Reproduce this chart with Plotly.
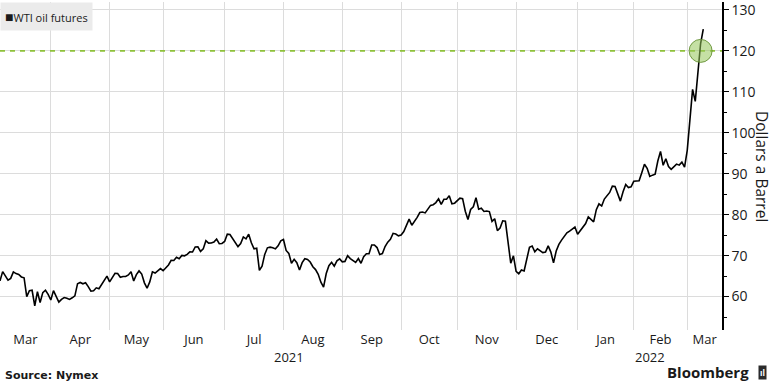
import numpy as np
import pandas as pd
import plotly.graph_objects as go

# ---------------- data ----------------
start_date = "2021-03-04"
end_date = "2022-03-08"
axis_end = "2022-03-17"
holidays = ["2021-04-02", "2021-05-31", "2021-07-05", "2021-09-06",
            "2021-11-25", "2021-12-24", "2022-01-17", "2022-02-21"]

mar21 = [63.83, 66.09, 65.05, 64.01, 64.44, 66.02, 65.61, 65.39, 64.80, 64.60,
         60.00, 61.42, 61.55, 57.76, 61.18, 58.56, 60.97, 61.56, 60.55, 59.16]
apr21 = [61.45, 58.65, 59.33, 59.77, 59.60, 59.32, 59.70, 60.18, 63.15, 63.46,
         63.13, 63.38, 62.44, 61.35, 61.43, 62.14, 61.91, 62.94, 63.86, 65.01, 63.58]
may21 = [64.49, 65.69, 65.63, 64.71, 64.90, 64.92, 65.28, 66.08, 63.82, 65.37,
         66.27, 65.49, 63.36, 62.05, 63.58, 66.05, 65.76, 66.21, 66.85, 66.32]
jun21 = [67.72, 68.83, 68.81, 69.62, 69.23, 70.05, 69.96, 70.29, 70.91, 70.88,
         72.12, 72.15, 71.04, 71.64, 73.66, 73.06, 73.08, 73.30, 74.05, 72.91, 72.98, 73.47]
jul21 = [75.23, 75.16, 73.37, 72.20, 72.94, 74.56, 74.10, 75.25, 73.13, 71.65,
         71.81, 66.42, 67.42, 70.30, 71.91, 72.07, 71.91, 71.65, 72.39, 73.62, 73.95]
aug21 = [71.26, 70.56, 68.15, 69.09, 68.28, 66.48, 68.29, 69.25, 69.09, 68.44,
         67.29, 66.59, 65.46, 63.50, 62.32, 65.64, 67.54, 68.36, 67.42, 68.74, 69.21, 68.50]
sep21 = [68.59, 69.99, 69.29, 68.35, 69.30, 68.14, 69.72, 70.45, 70.46, 72.61,
         72.61, 71.97, 70.29, 70.49, 72.23, 73.30, 73.98, 75.45, 75.29, 74.83, 75.03]
oct21 = [75.88, 77.62, 78.93, 77.43, 78.30, 79.35, 80.52, 80.64, 80.44, 81.31,
         82.28, 82.44, 82.96, 83.87, 82.50, 83.76, 83.76, 84.65, 82.66, 82.81, 83.57]
nov21 = [84.05, 83.91, 80.86, 78.81, 81.27, 81.93, 84.15, 81.34, 81.59, 80.79,
         80.88, 80.76, 78.36, 79.01, 76.10, 76.75, 78.50, 78.39, 68.15, 69.95, 66.18]
dec21 = [65.57, 66.50, 66.26, 69.49, 72.05, 72.36, 70.94, 71.67, 71.29, 70.73,
         70.87, 72.38, 70.86, 68.23, 71.12, 72.76, 73.79, 75.57, 75.98, 76.56, 76.99, 75.21]
jan22 = [76.08, 76.99, 77.85, 79.46, 78.90, 78.23, 81.22, 82.64, 82.12, 83.82,
         85.43, 86.96, 86.90, 85.14, 83.31, 85.60, 87.35, 86.61, 86.82, 88.15]
feb22 = [88.20, 88.26, 90.27, 92.31, 91.32, 89.36, 89.66, 89.88, 93.10, 95.46,
         92.07, 93.66, 91.76, 91.07, 92.35, 92.10, 92.81, 91.59, 95.72]
mar22 = [103.41, 110.60, 107.67, 115.68, 121.80, 125.30]

threshold = 120
highlight_date = "2022-03-07"

y_ticks = [60, 70, 80, 90, 100, 110, 120, 130]
y_range = [51.84, 131.94]

# ---------------- build ----------------
values = (mar21 + apr21 + may21 + jun21 + jul21 + aug21 + sep21 + oct21 +
          nov21 + dec21 + jan22 + feb22 + mar22)
dates = pd.bdate_range(start_date, end_date)
dates = dates[~dates.isin(pd.to_datetime(holidays))]
assert len(dates) == len(values), (len(dates), len(values))

s = pd.Series(dates)
per = s.dt.to_period("M")
month_last = s.groupby(per).max()
periods = list(month_last.index)
gridlines = list(month_last.values[:-1])  # last trading day of each month

origin = np.datetime64(dates[0].date())


def bpos(d):
    d = pd.Timestamp(d)
    return np.busday_count(origin, np.datetime64(d.date())) + (d - d.normalize()) / pd.Timedelta(days=1)


def bdate(p):
    base = int(np.floor(p))
    frac = p - base
    d = pd.Timestamp(np.busday_offset(origin, base, roll="forward"))
    return d + pd.Timedelta(days=frac)


x_start = pd.Timestamp(dates[0])
x_end = pd.Timestamp(axis_end)
bounds = [x_start] + [pd.Timestamp(g) for g in gridlines] + [x_end]

label_vals, label_text = [], []
for i, p in enumerate(periods):
    mid = (bpos(bounds[i]) + bpos(bounds[i + 1])) / 2
    label_vals.append(bdate(mid).strftime("%Y-%m-%d %H:%M"))
    label_text.append(p.strftime("%b"))

year_annots = []
years = sorted(set(p.year for p in periods))
for yr in years:
    idx = [i for i, p in enumerate(periods) if p.year == yr]
    a, b = bounds[idx[0]], bounds[idx[-1] + 1]
    mid = (bpos(a) + bpos(b)) / 2
    year_annots.append((bdate(mid).strftime("%Y-%m-%d %H:%M"), str(yr)))

FONT = "Open Sans"
TXT = "#1a1a1a"
GRID = "#dcdcdc"

fig = go.Figure()
# dashed threshold line as a trace spanning the axis range
fig.add_trace(go.Scatter(
    x=[x_start, x_end], y=[threshold, threshold], mode="lines",
    line=dict(color="#8fc13a", width=1.6, dash="5px,5px"),
    showlegend=False, hoverinfo="skip"))
fig.add_trace(go.Scatter(
    x=dates, y=values, mode="lines",
    line=dict(color="black", width=1.6),
    name="WTI oil futures", showlegend=False, hoverinfo="x+y"))
fig.add_trace(go.Scatter(
    x=[highlight_date], y=[threshold], mode="markers",
    marker=dict(size=23, color="rgba(150,198,90,0.55)",
                line=dict(color="rgba(95,140,45,0.85)", width=1)),
    showlegend=False, hoverinfo="skip"))

fig.update_layout(
    width=774, height=383,
    margin=dict(l=0, r=52, t=0, b=53),
    paper_bgcolor="white", plot_bgcolor="white",
    font=dict(family=FONT, color=TXT, size=13),
    showlegend=False,
    xaxis=dict(
        type="date",
        range=[x_start, x_end],
        rangebreaks=[dict(bounds=["sat", "mon"])],
        tickmode="array", tickvals=label_vals, ticktext=label_text,
        ticks="", showgrid=False, showline=False, zeroline=False,
        ticklabeloverflow="allow",
        tickfont=dict(size=13, color=TXT, family=FONT),
        minor=dict(tickmode="array", tickvals=gridlines, showgrid=True,
                   gridcolor=GRID, gridwidth=1, ticks=""),
    ),
    yaxis=dict(
        side="right", range=y_range,
        tickmode="array", tickvals=y_ticks,
        ticks="outside", ticklen=5, tickcolor="black", tickwidth=1,
        showline=True, linecolor="black", linewidth=1.5,
        showgrid=True, gridcolor=GRID, gridwidth=1, zeroline=False,
        ticklabeloverflow="allow",
        tickfont=dict(size=14, color=TXT, family=FONT),
        minor=dict(dtick=5, ticks="outside", ticklen=3, tickcolor="black", showgrid=False),
    ),
)

annots = []
annots.append(dict(xref="paper", yref="paper", x=0, y=1, xanchor="left", yanchor="top",
                   text="<span style='font-size:14px'>■</span>WTI oil futures",
                   showarrow=False, bgcolor="#ebebeb", borderpad=4,
                   font=dict(size=11, color=TXT, family=FONT)))
for xv, txt in year_annots:
    annots.append(dict(xref="x", yref="paper", x=xv, y=0, yanchor="middle", xanchor="center",
                       yshift=-27, text=txt, showarrow=False,
                       font=dict(size=13, color=TXT, family=FONT)))
annots.append(dict(xref="paper", yref="paper", x=1, y=0.5, xshift=40,
                   text="Dollars a Barrel", textangle=90, showarrow=False,
                   xanchor="center", yanchor="middle",
                   font=dict(size=15.5, color=TXT, family=FONT)))
annots.append(dict(xref="paper", yref="paper", x=0, y=0, xshift=3, yshift=-45,
                   xanchor="left", yanchor="middle", text="<b>Source: Nymex</b>",
                   showarrow=False, font=dict(size=11, color=TXT, family="DejaVu Sans")))
annots.append(dict(xref="paper", yref="paper", x=1, y=0, xshift=29, yshift=-42,
                   xanchor="right", yanchor="middle", text="<b>Bloomberg</b>",
                   showarrow=False, font=dict(size=15, color=TXT, family=FONT)))
annots.append(dict(xref="paper", yref="paper", x=1, y=0, xshift=40, yshift=-42,
                   xanchor="center", yanchor="middle", text="<b>ıl</b>",
                   showarrow=False, bgcolor="#2a2a2a", borderpad=1,
                   font=dict(size=8, color="white", family=FONT)))
fig.update_layout(annotations=annots)

fig.write_html("out.html",
               config={"displayModeBar": False},
               post_script="document.body.style.margin='0';document.body.style.padding='0';")
